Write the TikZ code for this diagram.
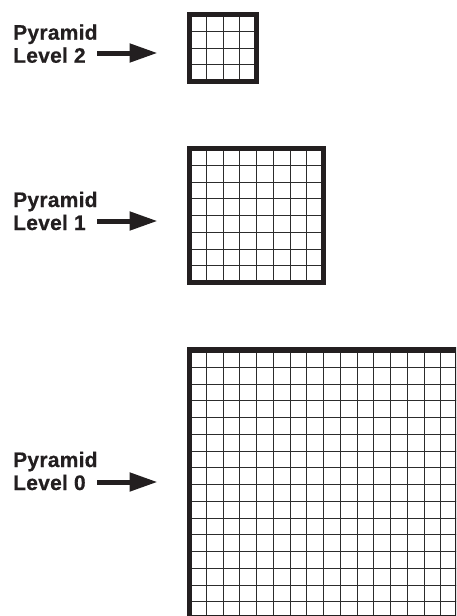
\documentclass[tikz,border=0pt]{standalone}
\usepackage{fontspec}
\newfontfamily\lblfont{Liberation Sans Bold}[LetterSpace=1.2, FakeBold=0.6]
\usetikzlibrary{arrows.meta}
\definecolor{ink}{HTML}{231F20}
\definecolor{cellgray}{HTML}{2C2C2C}
\tikzset{
  lbl/.style={font=\lblfont\fontsize{21}{23}\selectfont, text=ink, align=left, inner sep=0pt, anchor=base west},
  levelarrow/.style={draw=ink, line width=5pt, -{Triangle[length=28pt,width=18pt]}},
  cellline/.style={draw=cellgray, line width=1.5pt},
  frame/.style={draw=ink, line width=5.5pt, outer sep=0pt, inner sep=0pt, anchor=north west}
}
\begin{document}
\begin{tikzpicture}[x=1pt,y=-1pt]
\useasboundingbox (0,0) rectangle (456,616);
\clip (0,0) rectangle (456,616);
% level 2, 4 x 4 cells
\foreach \k [evaluate=\k as \off using {round(\k*16.75)}] in {1,...,3} {
  \draw[cellline] (189.5+\off,14.5) -- (189.5+\off,81.5);
  \draw[cellline] (189.5,14.5+\off) -- (256.5,14.5+\off);
}
\node[frame, minimum size=67pt] (grid2) at (189.5,14.5) {};
% level 1, 8 x 8 cells
\foreach \k [evaluate=\k as \off using {round(\k*16.75)}] in {1,...,7} {
  \draw[cellline] (189.5+\off,148.5) -- (189.5+\off,282.5);
  \draw[cellline] (189.5,148.5+\off) -- (323.5,148.5+\off);
}
\node[frame, minimum size=134pt] (grid1) at (189.5,148.5) {};
% level 0, 16 x 16 cells (cut by the page edge)
\foreach \k [evaluate=\k as \off using {round(\k*16.75)}] in {1,...,15} {
  \draw[cellline] (189.5+\off,350) -- (189.5+\off,618);
  \draw[cellline] (189.5,350.5+\off) -- (457.5,350.5+\off);
}
\node[frame, minimum size=268pt] (grid0) at (189.5,350) {};
% labels
\node[lbl] (lbl2) at (13,62.7) {Pyramid\\Level 2};
\node[lbl] (lbl1) at (13,230) {Pyramid\\Level 1};
\node[lbl] (lbl0) at (13,490) {Pyramid\\Level 0};
% arrows
\coordinate (tail2) at (97,53);
\coordinate (tail1) at (97,221);
\coordinate (tail0) at (97,482);
\draw[levelarrow] (tail2) -- ([xshift=-32pt]grid2.west |- tail2);
\draw[levelarrow] (tail1) -- ([xshift=-32pt]grid1.west |- tail1);
\draw[levelarrow] (tail0) -- ([xshift=-32pt]grid0.west |- tail0);
\end{tikzpicture}
\end{document}
